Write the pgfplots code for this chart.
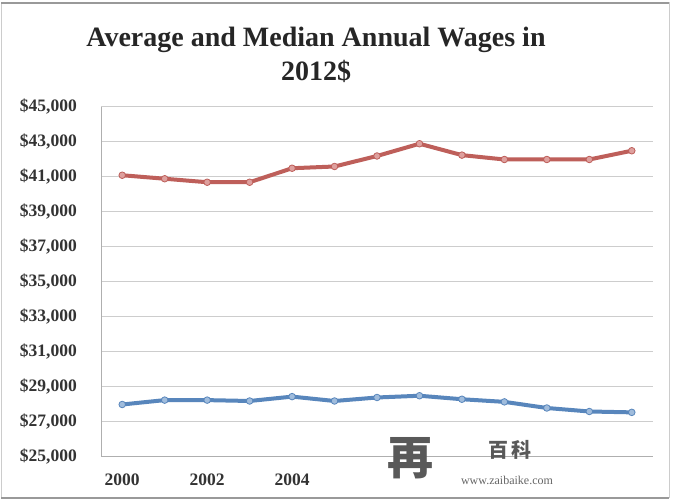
\documentclass[border=0pt]{standalone}
\usepackage{pgfplots}
\pgfplotsset{compat=1.18}
\usepackage{fontspec}
\setmainfont{Liberation Serif}
\newfontfamily\cjk{Noto Sans CJK SC}
\definecolor{avgred}{RGB}{190,95,90}
\definecolor{avgmark}{RGB}{222,160,158}
\definecolor{medblue}{RGB}{88,134,188}
\definecolor{medmark}{RGB}{160,188,220}
\definecolor{gridgray}{RGB}{205,205,205}
\definecolor{axgray}{RGB}{175,175,175}
\pgfplotstableread{
year avg med
2000 41100 28000
2001 40900 28250
2002 40700 28250
2003 40700 28200
2004 41500 28450
2005 41600 28200
2006 42200 28400
2007 42900 28500
2008 42250 28300
2009 42000 28150
2010 42000 27800
2011 42000 27600
2012 42500 27550
}\wages
\begin{document}
\begin{tikzpicture}
\useasboundingbox (0pt,0pt) rectangle (675pt,502pt);
\fill[white] (0pt,0pt) rectangle (675pt,502pt);
\draw[gray!40, line width=1pt] (1pt,4pt) rectangle (669pt,499pt);
\draw[gray!80, line width=1.8pt] (1pt,499pt) -- (669pt,499pt);
\draw[gray!80, line width=1.8pt] (1pt,4pt) -- (669pt,4pt);
\begin{axis}[
  at={(101pt,45pt)}, anchor=south west,
  scale only axis, width=552pt, height=350pt,
  xmin=1999.5, xmax=2012.5,
  ymin=25000, ymax=45000,
  ytick={25000,27000,...,45000},
  xtick={2000,2002,2004},
  axis x line*=bottom, axis y line*=left,
  axis line style={axgray, line width=1pt},
  every outer x axis line/.append style={-},
  every outer y axis line/.append style={-},
  major tick length=0pt,
  ymajorgrids, grid style={gridgray, line width=1pt},
  /pgf/number format/assume math mode=true,
  scaled y ticks=false,
  yticklabel={\$\pgfmathprintnumber[fixed,1000 sep={,}]{\tick}},
  xticklabel={\pgfmathprintnumber[1000 sep={}]{\tick}},
  yticklabel style={font=\fontsize{17.5}{20}\selectfont\bfseries, text=black!80, anchor=east, inner sep=0pt, xshift=-24pt},
  xticklabel style={font=\fontsize{17.5}{20}\selectfont\bfseries, text=black!80, anchor=center, inner sep=0pt, yshift=-23pt},
  clip=false,
]
\addplot[avgred, line width=4pt, mark=*, mark size=3.3pt, mark options={fill=avgmark, draw=avgred, line width=0.8pt}] table[x=year,y=avg] {\wages};
\addplot[medblue, line width=4pt, mark=*, mark size=3.3pt, mark options={fill=medmark, draw=medblue, line width=0.8pt}] table[x=year,y=med] {\wages};
\end{axis}
\fill[white] (323pt,8pt) rectangle (664pt,43pt);
\node[font=\fontsize{28}{34}\selectfont\bfseries, text=black!85, align=center] at (316pt,447pt) {Average and Median Annual Wages in\\2012\$};
\node[font=\cjk\fontsize{46}{46}\selectfont\bfseries, text=black!65] at (410pt,44pt) {再};
\node[font=\cjk\fontsize{20}{20}\selectfont\bfseries, text=black!65] at (510pt,52pt) {百\,科};
\node[font=\fontsize{12}{12}\selectfont, text=black!60] at (507pt,22pt) {www.zaibaike.com};
\end{tikzpicture}
\end{document}
